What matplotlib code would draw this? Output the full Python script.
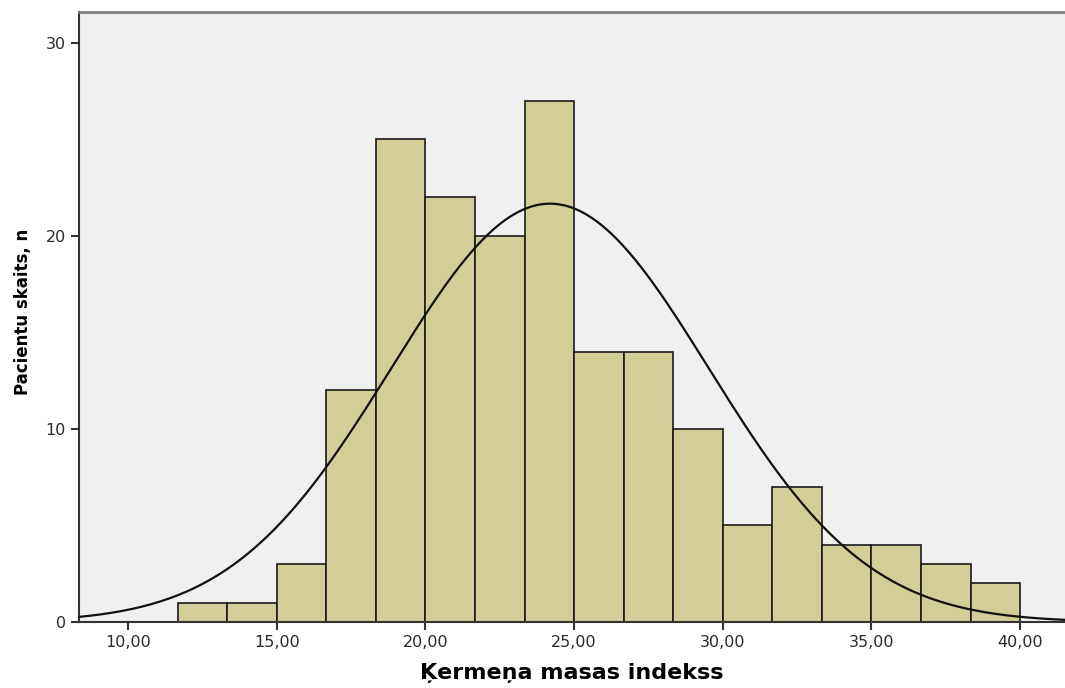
import numpy as np
import matplotlib.pyplot as plt
from matplotlib.ticker import FuncFormatter

# histogramma: ĶMI intervāli un pacientu skaits
bin_start = 11.6667
bin_width = 1.6667
counts = [1, 1, 3, 12, 25, 22, 20, 27, 14, 14, 10, 5, 7, 4, 4, 3, 2]

# normālā sadalījuma līkne (nolasīta no attēla)
bmi_mean = 24.19
bmi_sd = 5.34

x_ticks = [10, 15, 20, 25, 30, 35, 40]
y_ticks = [0, 10, 20, 30]

plt.rcParams['font.family'] = ['DejaVu Sans']

fig = plt.figure(figsize=(10.65, 6.88), dpi=100)
ax = fig.add_axes([0.0742, 0.0959, 0.9258, 0.8866])
ax.set_facecolor('#f0f0f0')

edges = bin_start + bin_width * np.arange(len(counts))
ax.bar(edges, counts, width=bin_width, align='edge', color='#d3ce97',
       edgecolor='#1a1a1a', linewidth=1.2, zorder=2)

n = sum(counts)
xs = np.linspace(8.3, 41.6, 500)
ys = n * bin_width / (bmi_sd * np.sqrt(2 * np.pi)) * np.exp(-0.5 * ((xs - bmi_mean) / bmi_sd) ** 2)
ax.plot(xs, ys, color='#111111', linewidth=1.6, zorder=3)

ax.set_xlim(8.35, 41.51)
ax.set_ylim(0, 31.59)
ax.set_xticks(x_ticks)
ax.set_yticks(y_ticks)
ax.xaxis.set_major_formatter(FuncFormatter(lambda v, p: f"{v:.2f}".replace('.', ',')))

ax.spines['right'].set_visible(False)
ax.spines['top'].set_color('#7f7f7f')
ax.spines['top'].set_linewidth(2)
ax.spines['left'].set_color('#333333')
ax.spines['left'].set_linewidth(1.5)
ax.spines['bottom'].set_color('#333333')
ax.spines['bottom'].set_linewidth(1.5)
ax.tick_params(direction='out', length=6, width=1.5, color='#333333',
               labelsize=11.5, labelcolor='#2a2a2a')

ax.set_xlabel("Ķermeņa masas indekss", fontsize=16, fontweight='bold', labelpad=9.5)
ax.set_ylabel("Pacientu skaits, n", fontsize=12, fontweight='bold')
ax.yaxis.set_label_coords(-0.048, 0.508)

plt.savefig("out.png", dpi=100)
